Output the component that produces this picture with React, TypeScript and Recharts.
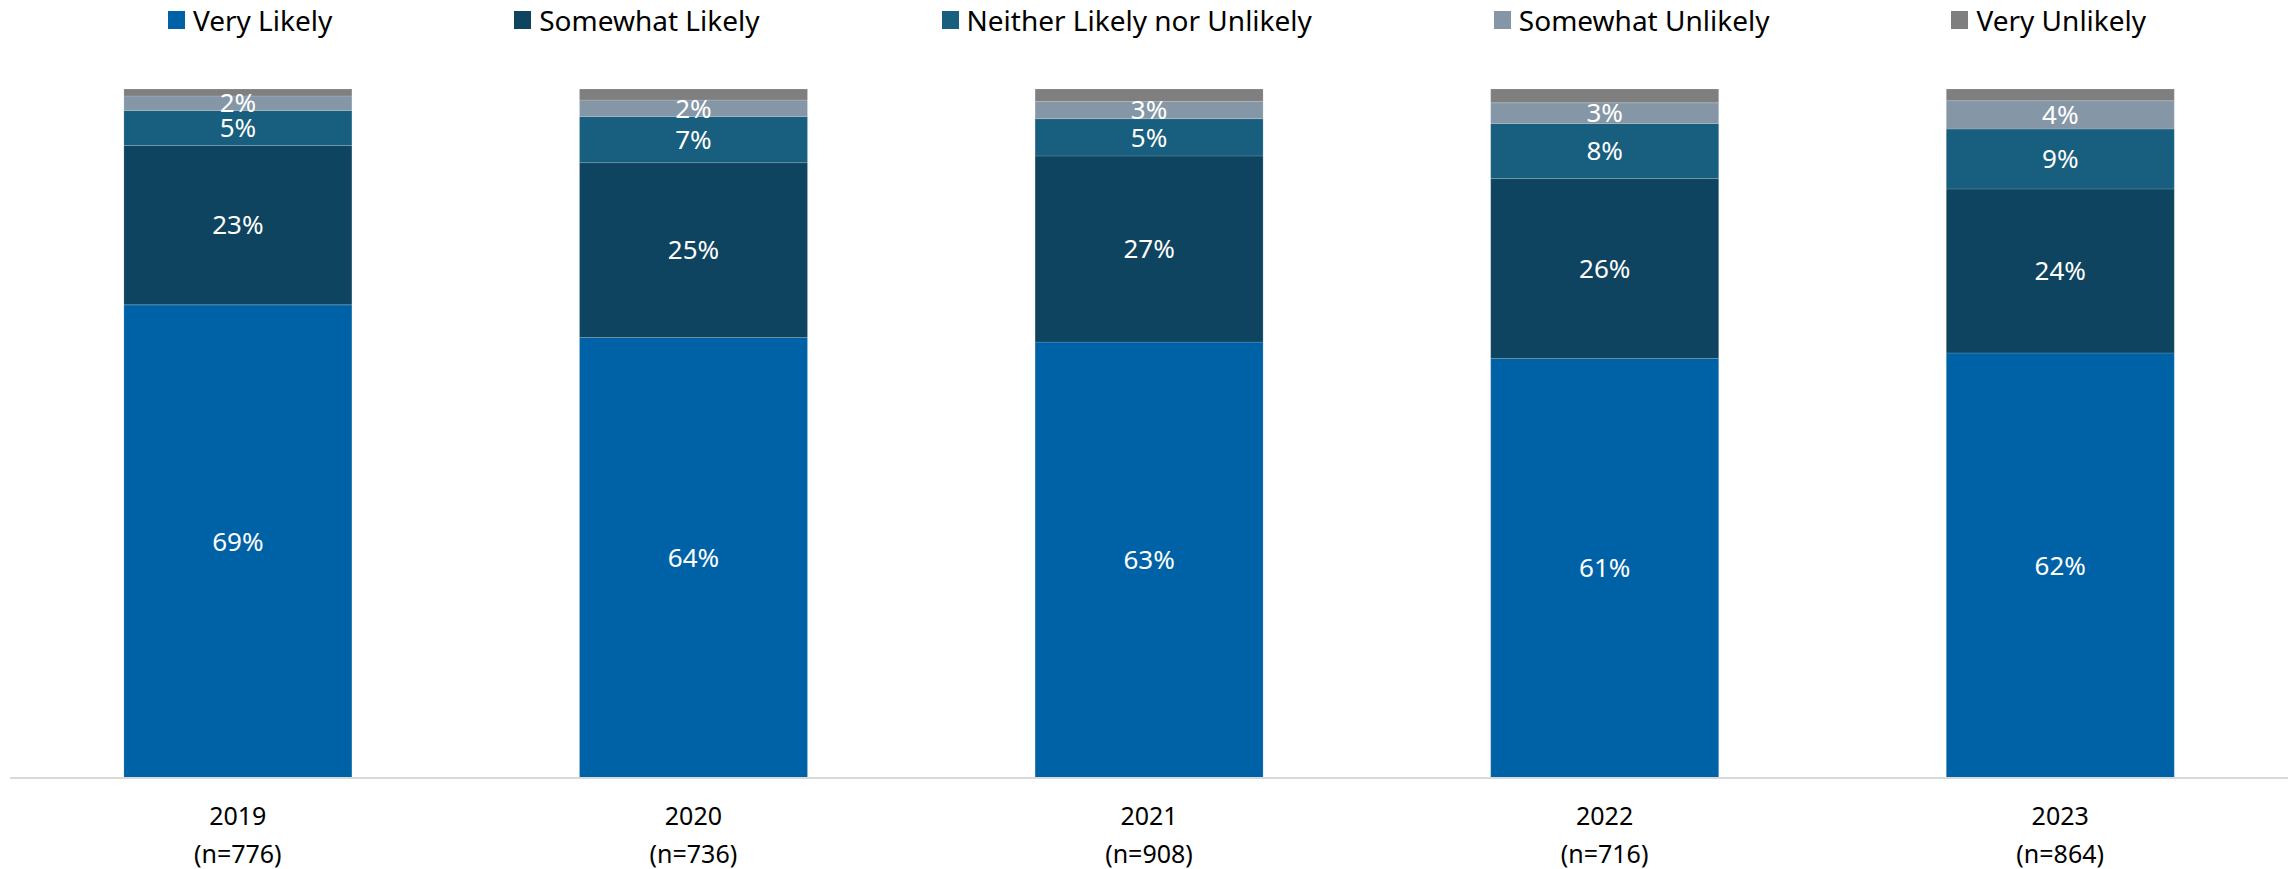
import React from 'react';
import { BarChart, Bar, XAxis, YAxis, LabelList } from 'recharts';

const years = ['2019', '2020', '2021', '2022', '2023'];
const sampleSizes = [776, 736, 908, 716, 864];

const veryLikely = [68.6, 64.0, 63.2, 60.9, 61.7];
const somewhatLikely = [23.1, 25.4, 27.0, 26.1, 23.8];
const neitherLikely = [5.1, 6.7, 5.4, 8.0, 8.7];
const somewhatUnlikely = [2.1, 2.4, 2.5, 3.0, 4.1];
const veryUnlikely = [1.0, 1.6, 1.8, 2.0, 1.7];

const series = [
  { key: 'veryLikely', name: 'Very Likely', color: '#0062A6', label: true },
  { key: 'somewhatLikely', name: 'Somewhat Likely', color: '#0E445F', label: true },
  { key: 'neither', name: 'Neither Likely nor Unlikely', color: '#185E7E', label: true },
  { key: 'somewhatUnlikely', name: 'Somewhat Unlikely', color: '#8597A7', label: true },
  { key: 'veryUnlikely', name: 'Very Unlikely', color: '#7F7F7F', label: false },
];

const data = years.map((year, i) => ({
  year,
  n: sampleSizes[i],
  veryLikely: veryLikely[i],
  somewhatLikely: somewhatLikely[i],
  neither: neitherLikely[i],
  somewhatUnlikely: somewhatUnlikely[i],
  veryUnlikely: veryUnlikely[i],
}));

const FONT = '"Noto Sans", "Open Sans", sans-serif';

const YearTick = (props: any) => {
  const { x, y, payload, index } = props;
  return (
    <text x={x} y={y} textAnchor="middle" fill="#000" fontSize={25} fontFamily={FONT}>
      <tspan x={x} dy={47}>{payload.value}</tspan>
      <tspan x={x} dy={38}>{`(n=${sampleSizes[index]})`}</tspan>
    </text>
  );
};

export default function App() {
  document.body.style.margin = '0';

  return (
    <div style={{ position: 'relative', width: 2292, height: 869, background: '#fff', fontFamily: FONT }}>
      <div
        style={{
          position: 'absolute',
          top: 0,
          left: 0,
          width: 2292,
          height: 40,
          display: 'flex',
          justifyContent: 'center',
          alignItems: 'center',
          gap: 182,
          paddingLeft: 22,
          boxSizing: 'border-box',
        }}
      >
        {series.map((s) => (
          <div key={s.key} style={{ display: 'flex', alignItems: 'center', gap: 8 }}>
            <span style={{ width: 17, height: 18, background: s.color, display: 'inline-block' }} />
            <span style={{ fontSize: 28, color: '#000', whiteSpace: 'nowrap' }}>{s.name}</span>
          </div>
        ))}
      </div>
      <BarChart
        width={2292}
        height={869}
        data={data}
        stackOffset="expand"
        barCategoryGap="25%"
        margin={{ top: 89, right: 4, bottom: 0, left: 10 }}
      >
        <XAxis
          dataKey="year"
          height={91}
          tickLine={false}
          tickSize={0}
          tickMargin={0}
          axisLine={{ stroke: '#D9D9D9', strokeWidth: 2 }}
          tick={<YearTick />}
          interval={0}
        />
        <YAxis hide domain={[0, 1]} />
        {series.map((s) => (
          <Bar
            key={s.key}
            dataKey={s.key}
            name={s.name}
            stackId="a"
            fill={s.color}
            stroke="#ffffff"
            strokeOpacity={0.15}
            strokeWidth={1}
            isAnimationActive={false}
          >
            {s.label && (
              <LabelList
                dataKey={s.key}
                position="center"
                fill="#fff"
                fontSize={26}
                fontFamily={FONT}
                formatter={(v: any) => `${Math.round(Number(v))}%`}
              />
            )}
          </Bar>
        ))}
      </BarChart>
    </div>
  );
}
